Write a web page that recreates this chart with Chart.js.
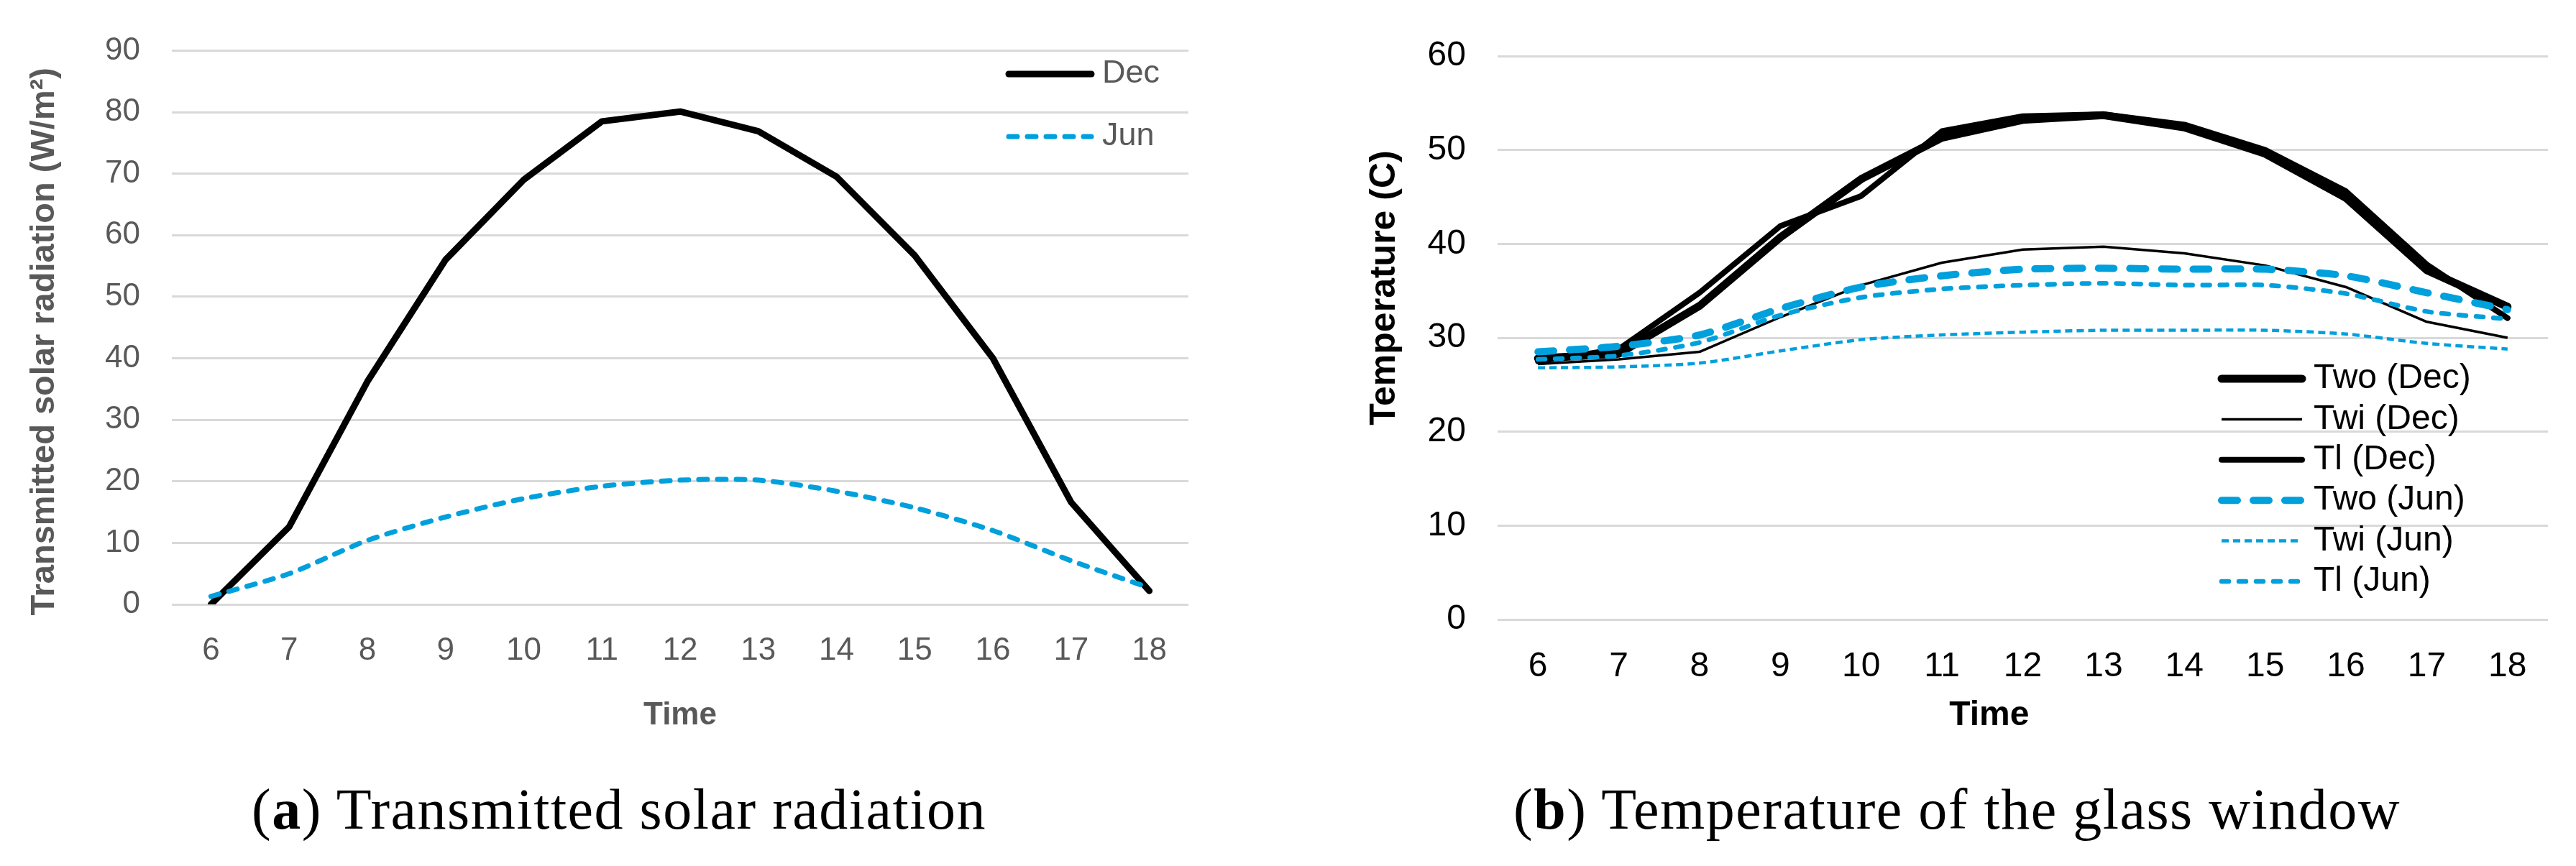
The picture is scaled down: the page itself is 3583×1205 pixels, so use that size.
<!DOCTYPE html>
<html>
<head>
<meta charset="utf-8">
<script src="https://cdn.jsdelivr.net/npm/chart.js@4.4.0/dist/chart.umd.min.js"></script>
<style>
  body { margin: 0; background: #fff; width: 3583px; height: 1205px; position: relative; overflow: hidden; }
  .panel { position: absolute; top: 0; }
  .caption {
    position: absolute; top: 1086px;
    font-family: 'Liberation Serif', 'Times New Roman', serif;
    font-size: 80px; line-height: 1; color: #000; letter-spacing: 1.5px;
    white-space: nowrap; transform: translateX(-50%);
  }
</style>
</head>
<body>
<div class="panel" style="left:0"><canvas id="radChart" width="1722" height="1060"></canvas></div>
<div class="panel" style="left:1860px"><canvas id="tempChart" width="1723" height="1060"></canvas></div>
<div class="caption" style="left:861px">(<b>a</b>) Transmitted solar radiation</div>
<div class="caption" style="left:2722px">(<b>b</b>) Temperature of the glass window</div>
<script>
// hours of the day (x categories)
const hours = ['6', '7', '8', '9', '10', '11', '12', '13', '14', '15', '16', '17', '18'];

// (a) transmitted solar radiation, W/m2
const radDec = [0, 12.6, 36.2, 56, 69, 78.5, 80.1, 76.9, 69.5, 56.7, 40, 16.6, 2.2];
const radJun = [1.3, 5, 10.4, 14.2, 17.2, 19.2, 20.2, 20.2, 18.4, 15.7, 12, 7.1, 2.7];

// (b) glass window temperatures, C
const twoDec = [27.8, 28.3, 33.4, 40.7, 46.9, 51.3, 53.2, 53.7, 52.4, 49.6, 44.9, 37.2, 33.3];
const twiDec = [27.2, 27.7, 28.5, 32.2, 35.6, 38.0, 39.4, 39.7, 39.0, 37.7, 35.4, 31.7, 30.0];
const tlDec = [27.5, 28.8, 34.8, 41.9, 45.1, 52.0, 53.6, 53.8, 52.7, 50.0, 45.6, 37.8, 32.1];
const twoJun = [28.5, 29.1, 30.3, 33.1, 35.4, 36.6, 37.3, 37.4, 37.3, 37.3, 36.6, 34.8, 33.0];
const twiJun = [26.8, 26.9, 27.3, 28.6, 29.8, 30.3, 30.6, 30.8, 30.8, 30.8, 30.4, 29.4, 28.8];
const tlJun = [27.7, 28.1, 29.5, 32.4, 34.3, 35.2, 35.6, 35.8, 35.6, 35.6, 34.7, 32.8, 32.0];

const radTicks = { min: 0, max: 90, step: 10 };
const tempTicks = { min: 0, max: 60, step: 10 };

const blue = '#00a0dc';
const gray = '#595959';
const gridGray = '#d9d9d9';
const sans = "'Liberation Sans', Arial, sans-serif";

// legend drawn inside the plot, from the datasets' own line styles
const insideLegend = {
    id: 'insideLegend',
    afterDraw(chart, args, opts) {
        const ctx = chart.ctx;
        ctx.save();
        ctx.font = opts.font;
        ctx.fillStyle = opts.color;
        ctx.textBaseline = 'middle';
        chart.data.datasets.forEach((ds, i) => {
            const y = opts.top + i * opts.rowGap;
            ctx.beginPath();
            ctx.strokeStyle = ds.borderColor;
            ctx.lineWidth = ds.borderWidth;
            ctx.lineCap = ds.borderCapStyle || 'butt';
            ctx.setLineDash(ds.borderDash || []);
            ctx.moveTo(opts.x, y);
            ctx.lineTo(opts.x + opts.lineLen, y);
            ctx.stroke();
            ctx.setLineDash([]);
            ctx.fillText(ds.label, opts.x + opts.lineLen + opts.gap, y);
        });
        ctx.restore();
    }
};

function line(label, data, color, width, dash, cap, order, tension) {
    return {
        label: label,
        data: data,
        borderColor: color,
        borderWidth: width,
        borderDash: dash,
        borderCapStyle: cap,
        borderJoinStyle: 'round',
        pointRadius: 0,
        fill: false,
        tension: tension,
        order: order
    };
}

new Chart(document.getElementById('radChart'), {
    type: 'line',
    data: {
        labels: hours,
        datasets: [
            line('Dec', radDec, '#000', 9, [], 'round', 2, 0),
            line('Jun', radJun, blue, 7, [12, 14], 'round', 1, 0.25)
        ]
    },
    options: {
        responsive: false,
        animation: false,
        layout: { padding: { top: 58, right: 69, bottom: 0, left: 0 } },
        plugins: {
            legend: { display: false },
            tooltip: { enabled: false },
            insideLegend: { x: 1403, top: 103, rowGap: 87, lineLen: 115, gap: 15, font: '45px ' + sans, color: gray }
        },
        scales: {
            x: {
                offset: true,
                grid: { display: false },
                border: { display: false },
                ticks: { color: gray, font: { family: sans, size: 44 }, padding: 30, maxRotation: 0 },
                title: { display: true, text: 'Time', color: gray, font: { family: sans, size: 44, weight: 'bold' }, padding: { top: 0, bottom: 38 } },
                afterFit: s => { s.height = 219; }
            },
            y: {
                min: radTicks.min,
                max: radTicks.max,
                grid: { color: gridGray, lineWidth: 3, drawTicks: false },
                border: { display: false },
                ticks: { stepSize: radTicks.step, color: gray, font: { family: sans, size: 44 }, padding: 44 },
                title: { display: true, text: 'Transmitted solar radiation (W/m\u00b2)   ', color: gray, font: { family: sans, size: 47, weight: 'bold' }, padding: { top: 34, bottom: 0 } },
                afterFit: s => { s.width = 239; }
            }
        }
    },
    plugins: [insideLegend]
});

new Chart(document.getElementById('tempChart'), {
    type: 'line',
    data: {
        labels: hours,
        datasets: [
            line('Two (Dec)', twoDec, '#000', 11, [], 'round', 6, 0),
            line('Twi (Dec)', twiDec, '#000', 3.5, [], 'butt', 5, 0),
            line('Tl (Dec)', tlDec, '#000', 8, [], 'round', 4, 0),
            line('Two (Jun)', twoJun, blue, 10, [22, 22], 'round', 3, 0.25),
            line('Twi (Jun)', twiJun, blue, 4.5, [10, 6], 'butt', 2, 0.25),
            line('Tl (Jun)', tlJun, blue, 6.5, [10, 14], 'round', 1, 0.25)
        ]
    },
    options: {
        responsive: false,
        animation: false,
        layout: { padding: { top: 78, right: 39, bottom: 0, left: 0 } },
        plugins: {
            legend: { display: false },
            tooltip: { enabled: false },
            insideLegend: { x: 1230, top: 527, rowGap: 56.4, lineLen: 112, gap: 16, font: '48px ' + sans, color: '#000' }
        },
        scales: {
            x: {
                offset: true,
                grid: { display: false },
                border: { display: false },
                ticks: { color: '#000', font: { family: sans, size: 48 }, padding: 29, maxRotation: 0 },
                title: { display: true, text: 'Time       ', color: '#000', font: { family: sans, size: 48, weight: 'bold' }, padding: { top: 0, bottom: 35 } },
                afterFit: s => { s.height = 198; }
            },
            y: {
                min: tempTicks.min,
                max: tempTicks.max,
                grid: { color: gridGray, lineWidth: 3, drawTicks: false },
                border: { display: false },
                ticks: { stepSize: tempTicks.step, color: '#000', font: { family: sans, size: 48 }, padding: 44 },
                title: { display: true, text: '          Temperature (C)', color: '#000', font: { family: sans, size: 50, weight: 'bold' }, padding: { top: 36, bottom: 0 } },
                afterFit: s => { s.width = 223; }
            }
        }
    },
    plugins: [insideLegend]
});
</script>
</body>
</html>
